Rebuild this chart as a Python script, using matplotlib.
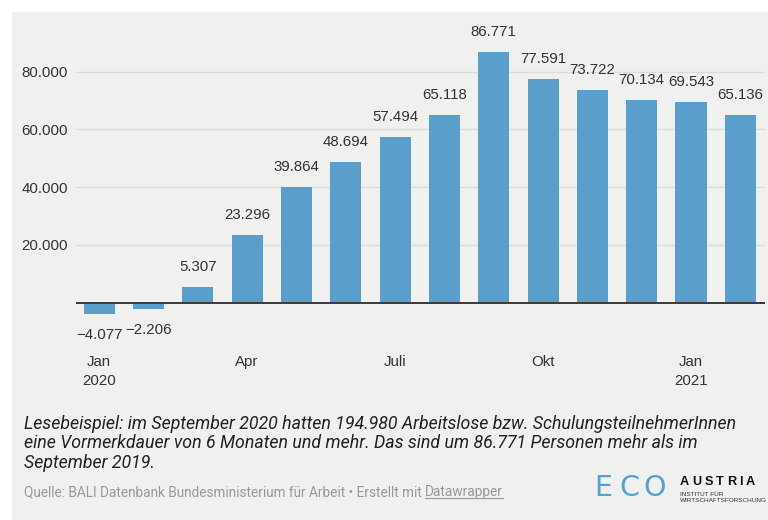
import matplotlib
matplotlib.use("Agg")
import matplotlib.pyplot as plt

# ---- data ----
months = ["Jan 2020", "Feb 2020", "Mär 2020", "Apr 2020", "Mai 2020", "Jun 2020", "Jul 2020",
          "Aug 2020", "Sep 2020", "Okt 2020", "Nov 2020", "Dez 2020", "Jan 2021", "Feb 2021"]
values = [-4077, -2206, 5307, 23296, 39864, 48694, 57494, 65118, 86771, 77591, 73722, 70134, 69543, 65136]
xtick_pos = [0, 3, 6, 9, 12]
xtick_labels = ["Jan\n2020", "Apr", "Juli", "Okt", "Jan\n2021"]
ytick_vals = [20000, 40000, 60000, 80000]

caption = ("Lesebeispiel: im September 2020 hatten 194.980 Arbeitslose bzw. SchulungsteilnehmerInnen\n"
           "eine Vormerkdauer von 6 Monaten und mehr. Das sind um 86.771 Personen mehr als im\n"
           "September 2019.")
source_txt = "Quelle: BALI Datenbank Bundesministerium für Arbeit • Erstellt mit "
source_link = "Datawrapper"

BAR = "#5a9ecb"
BG = "#f0f0ee"
TXT = "#333333"


def fmt(v):
    s = f"{abs(v):,}".replace(",", ".")
    return ("\u2212" + s) if v < 0 else s


W, H = 768, 520
fig = plt.figure(figsize=(W / 100, H / 100), dpi=100, facecolor="white")
bgax = fig.add_axes([12 / W, 0, 1 - 12 / W, 1 - 12 / H], zorder=-5)
bgax.set_facecolor(BG)
bgax.set_xticks([])
bgax.set_yticks([])
for s in bgax.spines.values():
    s.set_visible(False)

font = "Liberation Sans"
ymin, ymax = -8000, 90000
pxu = 57.7 / 20000
zero_y = 302.5
top_px = zero_y - ymax * pxu
bot_px = zero_y - ymin * pxu
ax = fig.add_axes([76 / W, 1 - bot_px / H, (765 - 76) / W, (bot_px - top_px) / H])
ax.set_facecolor("none")
ax.set_xlim(-0.47, 13.5)
ax.set_ylim(ymin, ymax)

x = list(range(len(values)))
ax.bar(x, values, width=0.63, color=BAR, zorder=3)
for v in ytick_vals:
    ax.axhline(v, color="#dcdcda", lw=1, zorder=1)
ax.axhline(0, color="#3a3a3a", lw=1.4, zorder=4)

for xi, v in zip(x, values):
    if v >= 0:
        ax.annotate(fmt(v), (xi, v), xytext=(0, 20), textcoords="offset pixels",
                    ha="center", va="center", fontsize=10.8, color=TXT, family=font)
    else:
        ax.annotate(fmt(v), (xi, v), xytext=(0, -21), textcoords="offset pixels",
                    ha="center", va="center", fontsize=10.8, color=TXT, family=font)

for s in ax.spines.values():
    s.set_visible(False)
ax.set_yticks(ytick_vals)
ax.set_yticklabels([fmt(v) for v in ytick_vals], family=font, fontsize=10.8, color=TXT)
ax.set_xticks(xtick_pos)
ax.set_xticklabels(xtick_labels, family=font, fontsize=10.8, color=TXT, linespacing=1.45)
ax.tick_params(axis="both", length=0)
ax.tick_params(axis="y", pad=6)
ax.tick_params(axis="x", pad=21)

# caption
fig.text(24 / W, 1 - 415 / H, caption, ha="left", va="top", fontsize=12.8, style="italic",
         family="Roboto", color="#222222", linespacing=1.09)

# source line
SRC_Y = 492
t = fig.text(24 / W, 1 - SRC_Y / H, source_txt, ha="left", va="center", fontsize=9.8,
             family="Roboto", color="#999999")
fig.canvas.draw()
bb = t.get_window_extent()
t2 = fig.text(bb.x1 / W, 1 - SRC_Y / H, source_link, ha="left", va="center", fontsize=9.8,
              family="Roboto", color="#999999")
fig.canvas.draw()
bb2 = t2.get_window_extent()
fig.lines.append(plt.Line2D([bb2.x0 / W, bb2.x1 / W], [(bb2.y0 + 1) / H, (bb2.y0 + 1) / H],
                            transform=fig.transFigure, color="#999999", lw=0.8))

# logo
for ch, cx in zip("ECO", [603, 629.5, 655]):
    fig.text(cx / W, 1 - 487.5 / H, ch, ha="center", va="center", fontsize=20.5,
             family="DejaVu Sans", weight="normal", color="#4fa3d1")


def tracked(text, x0, y, x1, **kw):
    arts = [fig.text(0, 0, c, **kw) for c in text]
    fig.canvas.draw()
    widths = [a.get_window_extent().width for a in arts]
    track = (x1 - x0 - sum(widths)) / (len(text) - 1)
    xx = x0
    for a, w in zip(arts, widths):
        a.set_position((xx / W, 1 - y / H))
        a.set_ha("left")
        a.set_va("center")
        xx += w + track


tracked("AUSTRIA", 680, 482, 755, fontsize=9.2, family="Liberation Sans", weight="bold",
        color="#111111")
fig.text(680 / W, 1 - 497.5 / H, "INSTITUT FÜR\nWIRTSCHAFTSFORSCHUNG", ha="left", va="center",
         fontsize=4.6, family="Liberation Sans", color="#333333", linespacing=1.1)

fig.savefig("out.png", dpi=100, facecolor="white")
